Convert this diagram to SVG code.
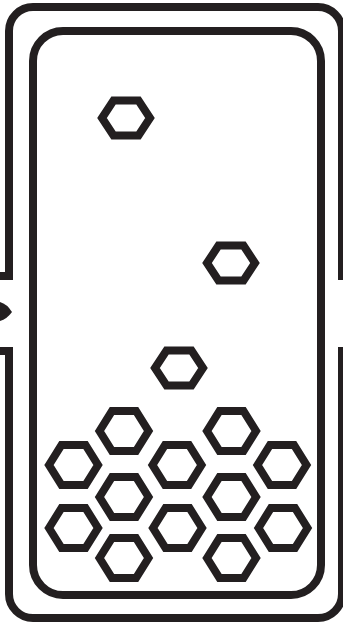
<svg xmlns="http://www.w3.org/2000/svg" width="343" height="625" viewBox="0 0 343 625">
<style>
.ln{fill:none;stroke:#231f20;stroke-width:8;stroke-miterlimit:10}
.hx{fill:none;stroke:#231f20;stroke-width:8;stroke-linejoin:miter}
</style>
<defs>
<polygon id="hf" points="-24,0 -12.5,-17.5 12.5,-17.5 24,0 12.5,17.5 -12.5,17.5"/>
<polygon id="hc" points="-24.5,0 -12,-20 12,-20 24.5,0 12,20 -12,20"/>
</defs>
<rect width="343" height="625" fill="#ffffff"/>
<g id="container">
<path class="ln" d="M -5 276 H 9 V 31 A 24 24 0 0 1 33 7 H 318 A 24 24 0 0 1 342 31 V 276 H 352"/>
<path class="ln" d="M -5 351 H 9 V 594 A 24 24 0 0 0 33 618 H 318 A 24 24 0 0 0 342 594 V 351 H 352"/>
<rect id="chamber" class="ln" x="33" y="31" width="288" height="564" rx="30" ry="30"/>
</g>
<g id="connectors">
<path d="M 0 302 Q 7 304 12 312 Q 7 319 0 321 Z" fill="#231f20"/>
</g>
<g id="free-particles">
<use href="#hf" class="hx" x="126" y="118"/>
<use href="#hf" class="hx" x="231" y="263"/>
<use href="#hf" class="hx" x="179" y="368"/>
</g>
<g id="settled-particles">
<use href="#hc" class="hx" x="124" y="431"/>
<use href="#hc" class="hx" x="231.5" y="431"/>
<use href="#hc" class="hx" x="73.5" y="465"/>
<use href="#hc" class="hx" x="177" y="465"/>
<use href="#hc" class="hx" x="282" y="465"/>
<use href="#hc" class="hx" x="124" y="497"/>
<use href="#hc" class="hx" x="231.5" y="497"/>
<use href="#hc" class="hx" x="73.5" y="528"/>
<use href="#hc" class="hx" x="177.5" y="528"/>
<use href="#hc" class="hx" x="283" y="528"/>
<use href="#hc" class="hx" x="124" y="558"/>
<use href="#hc" class="hx" x="231.5" y="558"/>
</g>
</svg>
